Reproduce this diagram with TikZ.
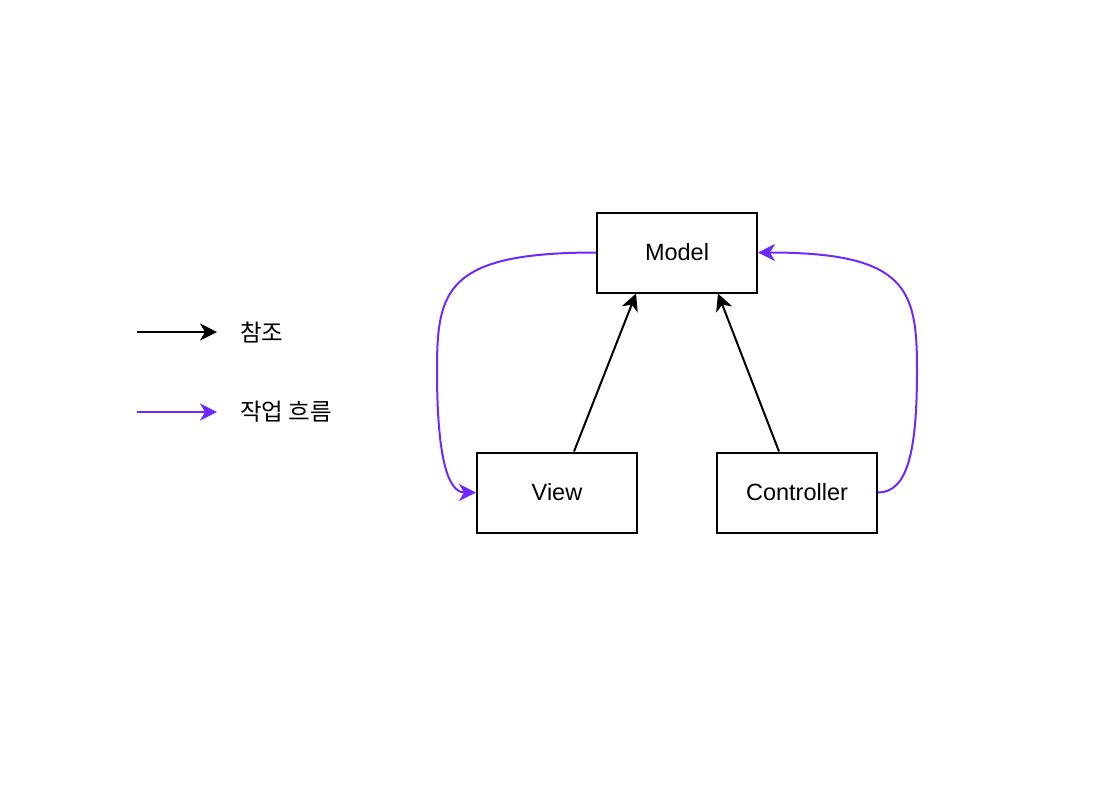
\documentclass[tikz,border=0pt]{standalone}
\usepackage{fontspec}
\setmainfont{Liberation Sans}
\newfontfamily\kofont{Noto Sans CJK KR}
\usepackage{xcolor}
\usetikzlibrary{arrows.meta,positioning,calc}
\definecolor{flowpurple}{HTML}{6E29FF}

\begin{document}
\begin{tikzpicture}[
    x=0.5pt, y=-0.5pt,
    font=\fontsize{11.75}{14}\selectfont,
    box/.style={rectangle, draw, line width=1pt, minimum width=80pt, minimum height=40pt, align=center},
    refarrow/.style={-{Stealth[length=8.5pt, width=8.5pt, inset=2.5pt]}, line width=1pt},
    flow/.style={refarrow, draw=flowpurple},
    legend/.style={font=\kofont\fontsize{11.75}{14}\selectfont}
]
    \useasboundingbox (0,0) rectangle (1114,784);

    \node[box] (model) at (677,252.5) {Model};
    \node[box, below=79pt of model, xshift=-60pt] (view) {View};
    \node[box, right=39pt of view] (ctrl) {Controller};

    % references
    \draw[refarrow] ($(view.north west)+(98,0)$) coordinate (vtop) -- ($(model.south west)+(40,0)$) coordinate (mleft);
    \draw[refarrow] ($(ctrl.north west)+(63,0)$) coordinate (ctop) -- ($(model.south east)+(-40,0)$) coordinate (mright);

    % work flow
    \coordinate (turnL) at (437,370);
    \coordinate (turnR) at (917,370);
    \draw[flow] (model.west) .. controls +(-150,0) and +(0,-80) .. (turnL)
        .. controls +(0,80) and +(-30,0) .. (view.west);
    \draw[flow] (ctrl.east) .. controls +(30,0) and +(0,80) .. (turnR)
        .. controls +(0,-80) and +(150,0) .. (model.east);

    % legend
    \coordinate (ref0) at (137,332);
    \coordinate (ref1) at (217,332);
    \draw[refarrow] (ref0) -- (ref1);
    \node[legend, right=8pt of ref1] (reflabel) {참조};

    \coordinate (flow0) at (137,412);
    \coordinate (flow1) at (217,412);
    \draw[flow] (flow0) -- (flow1);
    \node[legend, right=8pt of flow1] (flowlabel) {작업 흐름};
\end{tikzpicture}
\end{document}
